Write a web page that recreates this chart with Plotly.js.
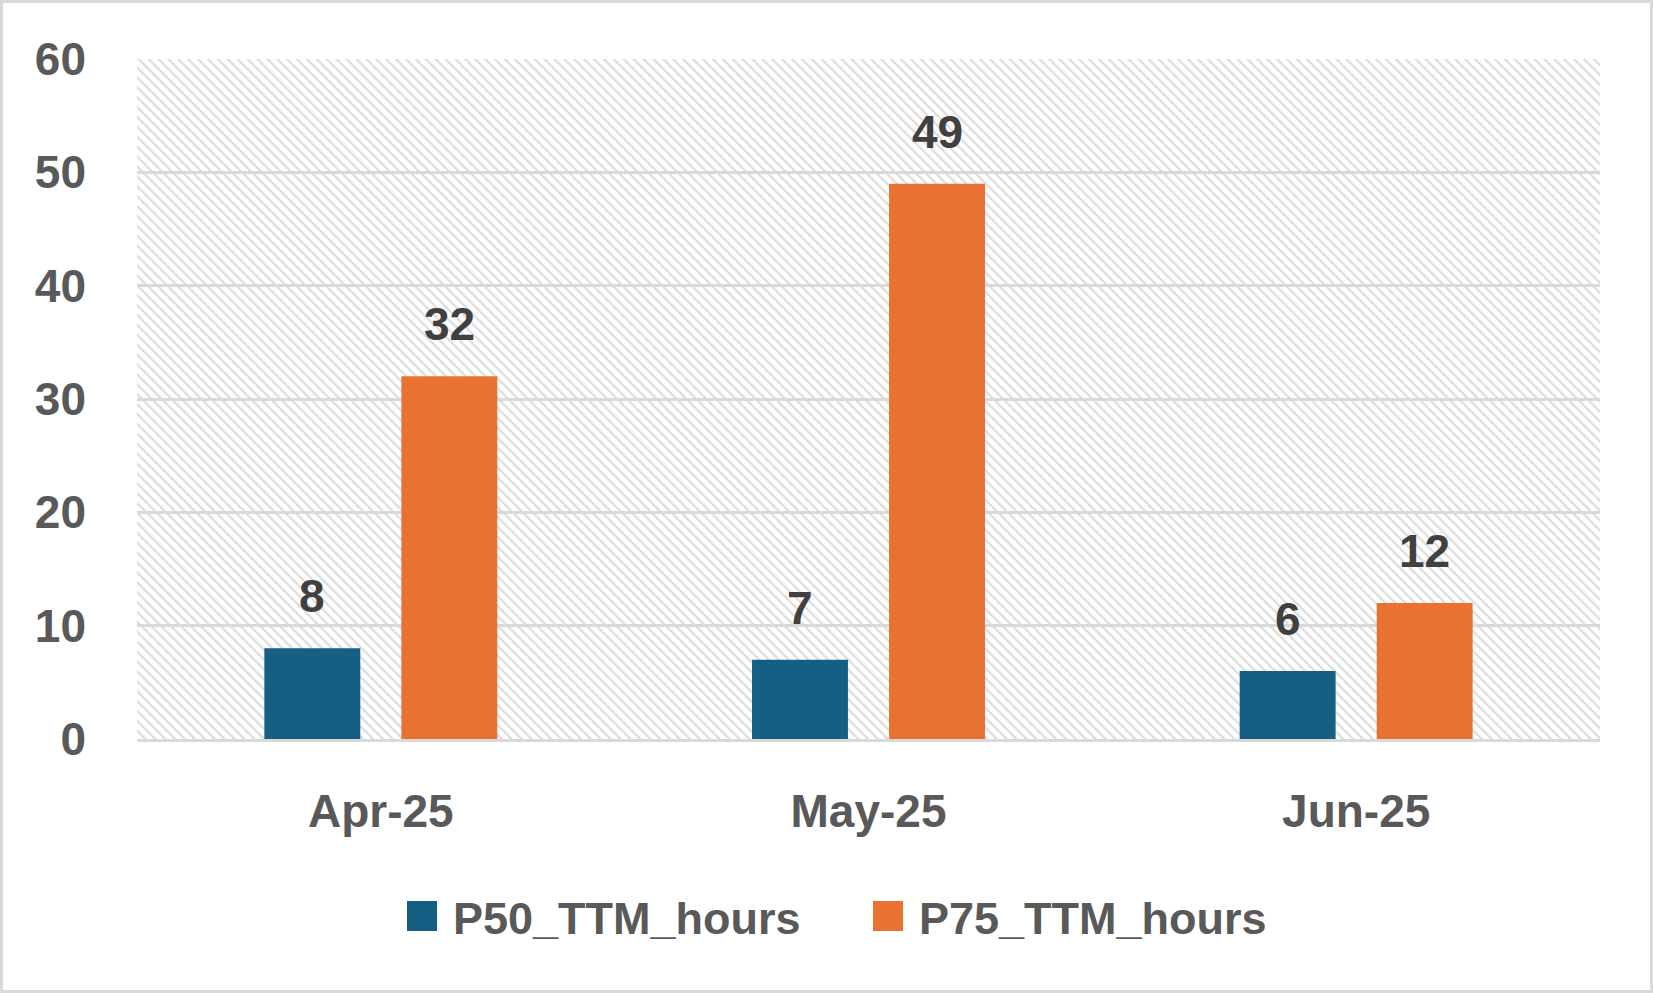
<!DOCTYPE html>
<html>
<head>
<meta charset="utf-8">
<script src="https://cdn.plot.ly/plotly-3.0.1.min.js"></script>
<style>
  html, body { margin: 0; padding: 0; background: #ffffff; }
  #chart { width: 1653px; height: 993px; }
</style>
</head>
<body>
<div id="chart"></div>
<script>
// ---- Data ----
const categories = ['Apr-25', 'May-25', 'Jun-25'];
const seriesNames = ['P50_TTM_hours', 'P75_TTM_hours'];
const p50Values = [8, 7, 6];
const p75Values = [32, 49, 12];
const yTickValues = [0, 10, 20, 30, 40, 50, 60];
const seriesColors = ['#156082', '#E97132'];

// ---- Layout geometry ----
const W = 1653, H = 993;
const M = { l: 137, r: 53, t: 59, b: 254 };
const PW = W - M.l - M.r, PH = H - M.t - M.b;
const BARGAP = 0.438, BARGROUPGAP = 0.3;
const px2x = px => (px - M.l) / PW;
const px2y = py => (H - M.b - py) / PH;

const FONT = 'Liberation Sans, Arial, sans-serif';
const tickColor = '#595959';
const labelColor = '#404040';
const gridColor = '#d9d9d9';

const allValues = [p50Values, p75Values];
const traces = allValues.map((vals, s) => ({
  type: 'bar',
  name: seriesNames[s],
  x: categories,
  y: vals,
  marker: { color: seriesColors[s], line: { width: 0 } },
  hoverinfo: 'x+y+name'
}));

// Data labels above bars (positioned on the axes via data coordinates)
const slotPx = PW / categories.length * (1 - BARGAP) / allValues.length;
const annotations = [];
allValues.forEach((vals, s) => {
  vals.forEach((v, i) => {
    annotations.push({
      x: categories[i], y: v, xref: 'x', yref: 'y',
      xshift: (s - (allValues.length - 1) / 2) * slotPx,
      yshift: 52, yanchor: 'middle', xanchor: 'center',
      showarrow: false, text: String(v),
      font: { family: FONT, size: 46, color: labelColor, weight: 700 }
    });
  });
});

// Custom legend (large swatches like the reference)
const legendItems = [
  { swatchL: 407, textL: 451 },
  { swatchL: 873, textL: 917 }
];
const legendCy = 916, swSize = 30;
const shapes = [];
legendItems.forEach((it, s) => {
  shapes.push({
    type: 'rect', xref: 'paper', yref: 'paper',
    x0: px2x(it.swatchL), x1: px2x(it.swatchL + swSize),
    y0: px2y(legendCy + swSize / 2), y1: px2y(legendCy - swSize / 2),
    fillcolor: seriesColors[s], line: { width: 0 }
  });
  annotations.push({
    xref: 'paper', yref: 'paper', x: px2x(it.textL), y: px2y(legendCy + 2),
    xanchor: 'left', yanchor: 'middle', showarrow: false,
    text: seriesNames[s],
    font: { family: FONT, size: 45, color: tickColor, weight: 700 }
  });
});

// Outer chart border
shapes.push({
  type: 'rect', xref: 'paper', yref: 'paper',
  x0: px2x(1.5), x1: px2x(W - 1.5), y0: px2y(H - 1.5), y1: px2y(1.5),
  line: { color: gridColor, width: 3 }, fillcolor: 'rgba(0,0,0,0)', layer: 'below'
});

// Hatched plot-area background
const hatchSvg =
  "<svg xmlns='http://www.w3.org/2000/svg' width='" + PW + "' height='" + PH + "' viewBox='0 0 " + PW + " " + PH + "' preserveAspectRatio='none'>" +
  "<defs><pattern id='p' width='7' height='7' patternUnits='userSpaceOnUse' patternTransform='rotate(-45)'>" +
  "<rect width='7' height='7' fill='#ffffff'/>" +
  "<rect x='0' y='0' width='2.2' height='7' fill='#dcdcdc'/>" +
  "</pattern></defs><rect width='100%' height='100%' fill='url(#p)'/></svg>";
const hatchUri = 'data:image/svg+xml;charset=utf-8,' + encodeURIComponent(hatchSvg);

const layout = {
  width: W, height: H,
  margin: M,
  paper_bgcolor: '#ffffff',
  plot_bgcolor: 'rgba(0,0,0,0)',
  barmode: 'group',
  bargap: BARGAP,
  bargroupgap: BARGROUPGAP,
  showlegend: false,
  font: { family: FONT, color: tickColor },
  xaxis: {
    type: 'category',
    showgrid: false,
    showline: true, linecolor: gridColor, linewidth: 3,
    ticks: '', ticklabelstandoff: 30,
    tickfont: { family: FONT, size: 46, color: tickColor, weight: 700 },
    fixedrange: true
  },
  yaxis: {
    range: [0, 60],
    tickvals: yTickValues,
    ticktext: yTickValues.map(String),
    showgrid: true, gridcolor: gridColor, gridwidth: 3,
    zeroline: false, showline: false,
    ticks: '', ticklabelstandoff: 50,
    tickfont: { family: FONT, size: 46, color: tickColor, weight: 700 },
    fixedrange: true
  },
  images: [{
    source: hatchUri, xref: 'paper', yref: 'paper',
    x: 0, y: 1, sizex: 1, sizey: 1, xanchor: 'left', yanchor: 'top',
    sizing: 'stretch', layer: 'below'
  }],
  shapes: shapes,
  annotations: annotations
};

Plotly.newPlot('chart', traces, layout, { displayModeBar: false, staticPlot: true });
</script>
</body>
</html>
